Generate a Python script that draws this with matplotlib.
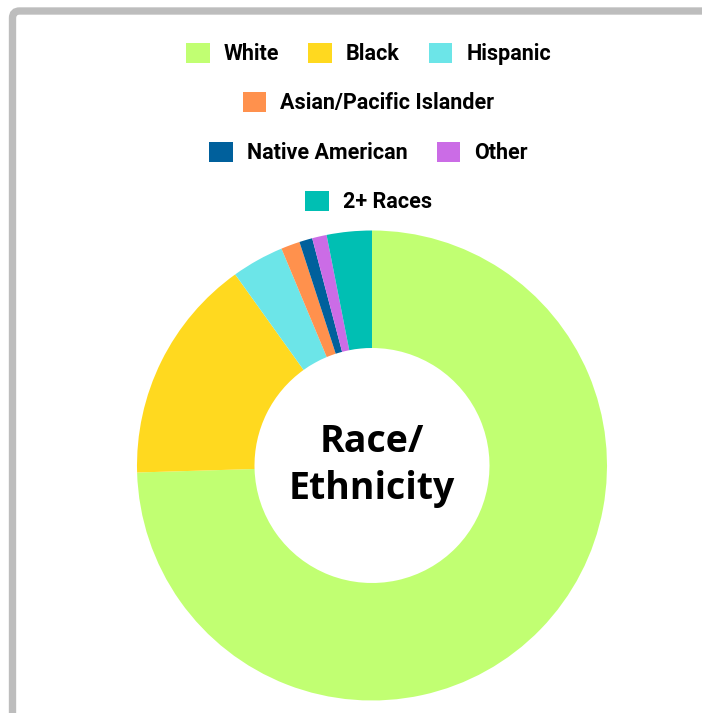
import matplotlib.pyplot as plt
from matplotlib.patches import FancyBboxPatch

# data (percent)
groups = ['White', 'Black', 'Hispanic', 'Asian/Pacific Islander',
          'Native American', 'Other', '2+ Races']
shares = [74.6, 15.6, 3.6, 1.3, 0.9, 1.0, 3.1]
colors = ['#c1ff72', '#ffd91f', '#6ce5e8', '#ff914d',
          '#00609c', '#cb6ce6', '#00bfb3']
legend_rows = [[0, 1, 2], [3], [4, 5], [6]]

plt.rcParams['font.family'] = ['Roboto', 'DejaVu Sans']

fig = plt.figure(figsize=(7.02, 7.13), dpi=100)
fig.patch.set_facecolor('white')

# grey card border (top and left edges visible)
border = FancyBboxPatch((12.5 / 702, -0.2), 1.3, 1 - 11 / 713 + 0.2,
                        boxstyle='round,pad=0,rounding_size=0.01',
                        transform=fig.transFigure, facecolor='none',
                        edgecolor='#bdbdbd', linewidth=5.3)
fig.add_artist(border)

# donut
ax = fig.add_axes([137 / 702, 12.5 / 713, 470 / 702, 470 / 713])
wedges, _ = ax.pie(shares, colors=colors, startangle=90, counterclock=False,
                   radius=1.0, wedgeprops=dict(width=0.5, linewidth=0))
ax.set_xlim(-1, 1)
ax.set_ylim(-1, 1)
ax.set_aspect('equal')
ax.axis('off')

ax.text(0, 0.0, 'Race/\nEthnicity', ha='center', va='center',
        fontsize=27, fontweight='bold', family=['Open Sans', 'DejaVu Sans'],
        linespacing=1.3, color='black')

# legend rows, centred one under another
row_y = [1 - 54 / 713, 1 - 103 / 713, 1 - 153 / 713, 1 - 202 / 713]
for idxs, y in zip(legend_rows, row_y):
    fig.legend([wedges[i] for i in idxs], [groups[i] for i in idxs],
               loc='center', bbox_to_anchor=(368.5 / 702, y), ncol=len(idxs),
               frameon=False, handlelength=1.1, handleheight=1.1,
               handletextpad=0.65, columnspacing=1.35,
               prop=dict(family=['Roboto', 'DejaVu Sans'], weight='bold', size=15.5))

fig.savefig('out.png', dpi=100, facecolor='white')
